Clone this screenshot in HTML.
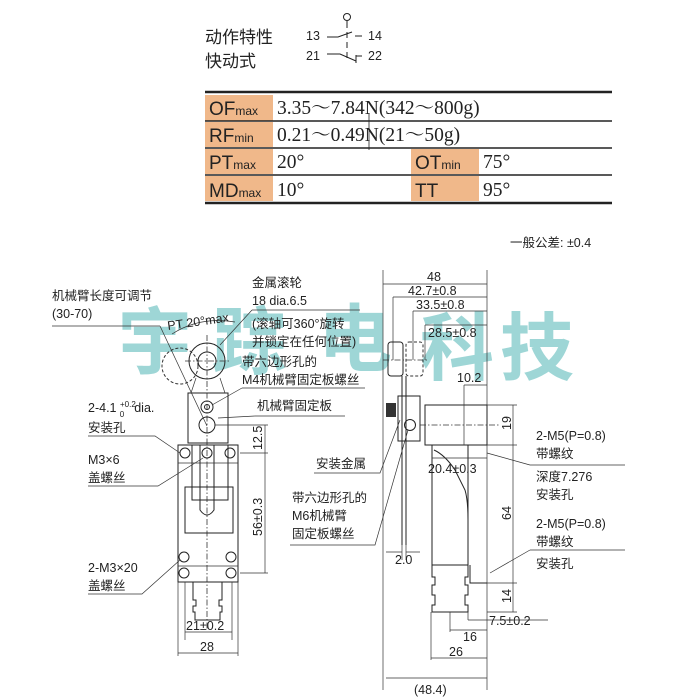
<!DOCTYPE html>
<html><head><meta charset="utf-8"><style>
html,body{margin:0;padding:0;background:#fff;}
svg{display:block;}
text{font-family:"Liberation Sans","Noto Sans CJK SC",sans-serif;fill:#222;}
.s{font-size:12.5px;}
.sr{font-family:"Liberation Serif","Noto Serif CJK SC",serif;font-size:19.5px;}
.l{stroke:#222;stroke-width:1;fill:none;}
.t{stroke:#333;stroke-width:0.7;fill:none;}
.d{stroke:#333;stroke-width:0.8;fill:none;stroke-dasharray:6 2 1.5 2;}
.k{stroke:#333;stroke-width:1;fill:none;stroke-dasharray:3 2;}
</style></head><body>
<svg width="700" height="700" viewBox="0 0 700 700" xmlns="http://www.w3.org/2000/svg">

<!-- watermark -->
<g font-size="74" font-weight="bold" opacity="0.8">
<text x="118" y="368" style="fill:#86cccc;font-family:'Noto Sans CJK SC',sans-serif">宇</text>
<text x="212" y="368" style="fill:#86cccc;font-family:'Noto Sans CJK SC',sans-serif">踪</text>
<text x="318" y="365" style="fill:#86cccc;font-family:'Noto Sans CJK SC',sans-serif">电</text>
<text x="420" y="374" style="fill:#86cccc;font-family:'Noto Sans CJK SC',sans-serif">科</text>
<text x="500" y="374" style="fill:#86cccc;font-family:'Noto Sans CJK SC',sans-serif">技</text>
</g>

<!-- header -->
<text x="205" y="43" style="font-size:17px">动作特性</text>
<text x="205" y="67" style="font-size:17px">快动式</text>
<text x="306" y="40" class="s">13</text><text x="368" y="40" class="s">14</text>
<text x="306" y="60" class="s">21</text><text x="368" y="60" class="s">22</text>
<circle cx="347" cy="17" r="3.5" class="l"/>
<path d="M347,21 V28 M347,32 V38 M347,42 V48 M347,52 V58" class="l"/>
<path d="M327,37 H338 L352,32 M355,36 H362" class="l"/>
<path d="M327,54 H340 L356,61 M356,55 V63 M356,56 H362" class="l"/>

<!-- table -->
<rect x="205" y="95" width="68" height="26" fill="#f0b88a"/>
<rect x="205" y="122" width="68" height="25" fill="#f0b88a"/>
<rect x="205" y="149" width="68" height="25" fill="#f0b88a"/>
<rect x="205" y="176" width="68" height="25" fill="#f0b88a"/>
<rect x="411" y="149" width="68" height="25" fill="#f0b88a"/>
<rect x="411" y="176" width="68" height="25" fill="#f0b88a"/>
<path d="M205,92 H612" stroke="#222" stroke-width="2.5"/>
<path d="M205,121 H612 M205,148 H612 M205,175 H612" stroke="#222" stroke-width="1.6"/>
<path d="M205,203 H612" stroke="#222" stroke-width="2.5"/>
<path d="M369,113 V150" stroke="#222" stroke-width="0.8"/>
<g style="font-size:19px">
<text x="209" y="115">OF<tspan style="font-size:12px">max</tspan></text>
<text x="209" y="142">RF<tspan style="font-size:12px">min</tspan></text>
<text x="209" y="169">PT<tspan style="font-size:12px">max</tspan></text>
<text x="209" y="197">MD<tspan style="font-size:12px">max</tspan></text>
<text x="415" y="169">OT<tspan style="font-size:12px">min</tspan></text>
<text x="415" y="197">TT</text>
</g>
<text x="277" y="114" class="sr">3.35～7.84N(342～800g)</text>
<text x="277" y="141" class="sr">0.21～0.49N(21～50g)</text>
<text x="277" y="168" class="sr">20°</text>
<text x="277" y="196" class="sr">10°</text>
<text x="483" y="168" class="sr">75°</text>
<text x="483" y="196" class="sr">95°</text>

<text x="510" y="247" class="s">一般公差: ±0.4</text>

<!-- LEFT VIEW -->
<circle cx="207" cy="361" r="18" class="l" stroke-width="1.5"/>
<circle cx="207" cy="361" r="9" class="l"/>
<circle cx="180" cy="366" r="18" class="k"/>
<path d="M207,335 V630 M185,361 H230" class="d"/>
<path d="M172,334 Q200,316 235,322" class="t"/>
<path d="M160,326 L207,426" class="t"/>
<rect x="188" y="393" width="40" height="50" class="l"/>
<path d="M191,393 L196,378 M225,393 L220,378" class="t"/>
<circle cx="207" cy="407" r="6" class="l"/><circle cx="207" cy="407" r="2.5" class="l"/>
<circle cx="207" cy="425" r="8" class="l" stroke-width="1.5"/>
<rect x="178" y="445" width="60" height="137" class="l"/>
<rect x="185" y="487" width="48" height="46" class="l"/>
<rect x="192" y="445" width="36" height="55" class="l"/>
<path d="M200,445 V510 Q207,520 214,510 V445" class="l"/>
<path d="M178,463 H238 M178,566 H238" class="t"/>
<circle cx="185" cy="453" r="5" class="l"/><circle cx="230" cy="453" r="5" class="l"/>
<circle cx="207" cy="453" r="5" class="l"/>
<circle cx="184" cy="557" r="5" class="l"/><circle cx="231" cy="557" r="5" class="l"/>
<circle cx="184" cy="573" r="5" class="l"/><circle cx="231" cy="573" r="5" class="l"/>
<path d="M193,582 V600 H196 V606 H193 V612 H195 V620 H220 V612 H222 V606 H219 V600 H222 V582" class="l"/>
<path d="M185,582 V640 M232,582 V640 M178,582 V656 M238,582 V656" class="t"/>
<path d="M185,632 H232 M178,653 H238" class="t"/>
<text x="186" y="630" class="s">21±0.2</text>
<text x="200" y="651" class="s">28</text>
<path d="M215,425 H268 M240,453 H268 M240,573 H268 M265,425 V573" class="t"/>
<text transform="translate(262,450) rotate(-90)" class="s">12.5</text>
<text transform="translate(262,536) rotate(-90)" class="s">56±0.3</text>

<!-- left labels -->
<text x="52" y="300" class="s">机械臂长度可调节</text>
<text x="52" y="318" class="s">(30-70)</text>
<path d="M52,326 H160" class="t"/>
<text transform="translate(168,330) rotate(-8)" class="s">PT 20°max</text>
<text x="252" y="287" class="s">金属滚轮</text>
<text x="252" y="305" class="s">18 dia.6.5</text>
<path d="M252,310 H360 M252,310 L220,345" class="t"/>
<text x="252" y="328" class="s">(滚轴可360°旋转</text>
<text x="252" y="346" class="s">并锁定在任何位置)</text>
<text x="242" y="366" class="s">带六边形孔的</text>
<text x="242" y="384" class="s">M4机械臂固定板螺丝</text>
<path d="M242,388 H365 M242,388 L212,405" class="t"/>
<text x="257" y="410" class="s">机械臂固定板</text>
<path d="M255,416 H345 M255,416 L218,418" class="t"/>
<text x="88" y="412" class="s">2-4.1 <tspan style="font-size:8px" dy="-5">+0.2</tspan><tspan style="font-size:8px" dx="-16" dy="10">0</tspan><tspan dy="-5" dx="10">dia.</tspan></text>
<text x="88" y="432" class="s">安装孔</text>
<path d="M88,436 H155 L180,453" class="t"/>
<text x="88" y="464" class="s">M3×6</text>
<text x="88" y="482" class="s">盖螺丝</text>
<path d="M88,486 H158 L203,458" class="t"/>
<text x="88" y="572" class="s">2-M3×20</text>
<text x="88" y="590" class="s">盖螺丝</text>
<path d="M88,594 H142 L180,560" class="t"/>

<!-- RIGHT VIEW -->
<path d="M383,270 V690 M487,270 V690" class="t"/>
<path d="M383,284 H487 M393,297 H487 M413,311 H487 M425,325 H487" class="t"/>
<path d="M393,297 V360 M413,311 V360 M425,325 V360" class="t"/>
<text x="427" y="281" class="s">48</text>
<text x="408" y="295" class="s">42.7±0.8</text>
<text x="416" y="309" class="s">33.5±0.8</text>
<text x="428" y="337" class="s">28.5±0.8</text>
<rect x="388" y="342" width="15" height="34" rx="3" class="l"/>
<rect x="406" y="342" width="17" height="34" rx="3" class="k"/>
<path d="M383,360 H428" class="d"/>
<path d="M402,376 V545 M406,376 V545" class="l"/>
<rect x="398" y="396" width="22" height="45" class="l"/>
<rect x="386" y="403" width="10" height="14" fill="#333"/>
<circle cx="410" cy="425" r="5.5" class="l" stroke-width="1.5"/>
<rect x="425" y="405" width="62" height="40" class="l"/>
<path d="M420,425 H500" class="d"/>
<path d="M432,445 V565 M468,445 V505 M434,450 Q445,455 455,470 L465,490 Q468,500 468,520 V565" class="l"/>
<path d="M468,505 V565 M470,565 V583 H487" class="l"/>
<path d="M432,565 H468 V577 H465 V585 H468 V595 H465 V605 H468 V612 H432 V605 H435 V595 H432 V585 H435 V577 H432 Z" class="l"/>
<path d="M464,385 V445 M464,385 H487" class="t"/>
<text x="457" y="382" class="s">10.2</text>
<path d="M487,405 H517 M487,445 H517 M487,583 H517 M487,612 H517 M513,405 V612" class="t"/>
<text transform="translate(511,430) rotate(-90)" class="s">19</text>
<text transform="translate(511,520) rotate(-90)" class="s">64</text>
<text transform="translate(511,603) rotate(-90)" class="s">14</text>
<path d="M432,458 H487" class="t"/>
<text x="428" y="473" class="s">20.4±0.3</text>
<path d="M402,545 V560 M406,545 V560 M386,552 H402 M406,552 H420" class="t"/>
<text x="395" y="564" class="s">2.0</text>
<path d="M450,612 V632 M468,612 V620 M468,620 H548 M450,630 H487" class="t"/>
<text x="489" y="625" class="s">7.5±0.2</text>
<text x="463" y="641" class="s">16</text>
<path d="M431,612 V660 M431,658 H487" class="t"/>
<text x="449" y="656" class="s">26</text>
<path d="M386,678 H487" class="t"/>
<text x="414" y="694" class="s">(48.4)</text>

<!-- right labels -->
<text x="536" y="440" class="s">2-M5(P=0.8)</text>
<text x="536" y="458" class="s">带螺纹</text>
<path d="M530,465 H625 M530,465 L487,453" class="t"/>
<text x="536" y="481" class="s">深度7.276</text>
<text x="536" y="499" class="s">安装孔</text>
<text x="536" y="528" class="s">2-M5(P=0.8)</text>
<text x="536" y="546" class="s">带螺纹</text>
<path d="M530,550 H625 M530,550 L490,573" class="t"/>
<text x="536" y="568" class="s">安装孔</text>
<text x="316" y="468" class="s">安装金属</text>
<path d="M314,473 H380 L400,420" class="t"/>
<text x="292" y="502" class="s">带六边形孔的</text>
<text x="292" y="520" class="s">M6机械臂</text>
<text x="292" y="538" class="s">固定板螺丝</text>
<path d="M290,545 H375 L408,430" class="t"/>
</svg>
</body></html>
